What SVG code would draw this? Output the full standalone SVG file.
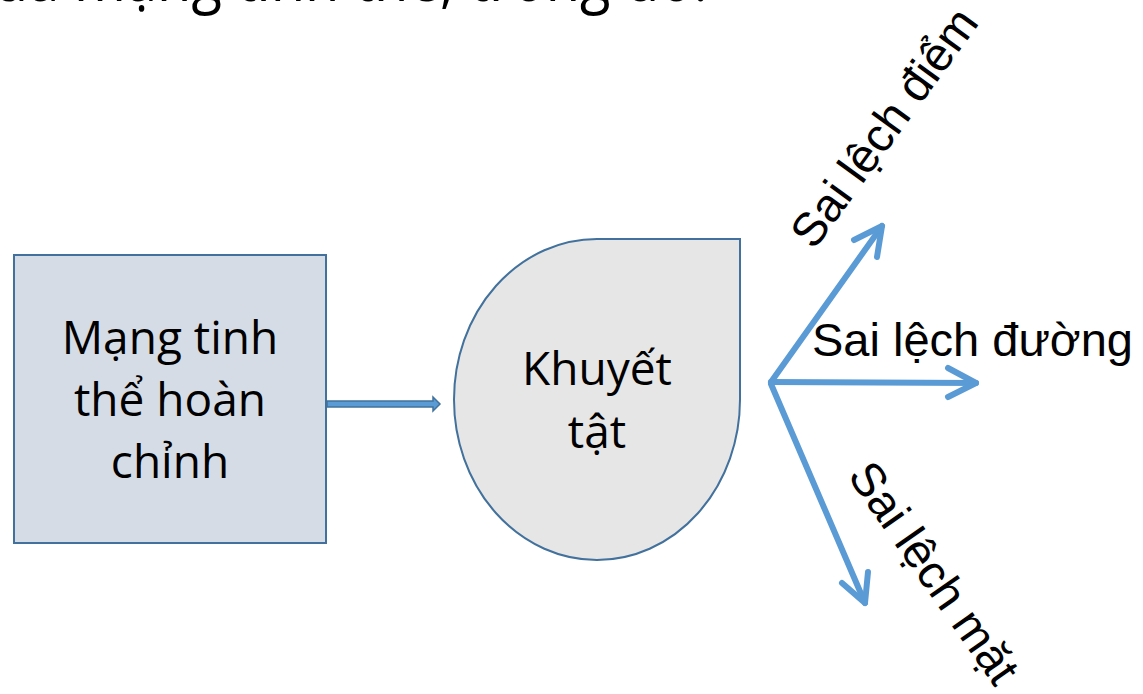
<svg xmlns="http://www.w3.org/2000/svg" width="1143" height="694" viewBox="0 0 1143 694">
  <style>
    .calib { font-family: "Open Sans", "Noto Sans", sans-serif; font-size: 46px; fill: #000; text-anchor: middle; }
    .ar { font-family: "Liberation Sans", Arial, sans-serif; font-size: 47px; fill: #000; }
    .shape { stroke: #41719c; stroke-width: 2; }
    .blue { fill: none; stroke: #5b9bd5; stroke-width: 6; stroke-linecap: round; stroke-linejoin: round; }
  </style>
  <rect width="1143" height="694" fill="#ffffff"/>
  <text x="-33" y="1" font-family="Open Sans, Noto Sans, sans-serif" font-size="64" textLength="741" lengthAdjust="spacingAndGlyphs">của mạng tinh thể, trong đó:</text>

  <g id="node-perfect">
    <rect class="shape" x="14" y="255" width="312" height="288" fill="#d6dce5"/>
    <text class="calib" x="170" y="354">Mạng tinh</text>
    <text class="calib" x="170" y="416">thể hoàn</text>
    <text class="calib" x="170" y="478">chỉnh</text>
  </g>

  <g id="node-defect">
    <path class="shape" fill="#e7e6e6" d="M597 239 L740 239 L740 399.5 A143 160.5 0 0 1 597 560 A143 160.5 0 0 1 454 399.5 A143 160.5 0 0 1 597 239 Z"/>
    <text class="calib" x="597" y="385">Khuyết</text>
    <text class="calib" x="597" y="448">tật</text>
  </g>

  <g id="connectors">
    <path d="M327 401 L433 401 L433 397 L440 404 L433 411 L433 407 L327 407 Z" fill="#5b9bd5" stroke="#41719c" stroke-width="1.5"/>
    <path class="blue" d="M771 382 L882 226"/>
    <path class="blue" d="M854 240 L882 226 L877 257"/>
    <path class="blue" d="M771 382 L976 383"/>
    <path class="blue" d="M948 368 L976 383 L948 397"/>
    <path class="blue" d="M771 384 L865 603"/>
    <path class="blue" d="M842 583 L865 603 L868 572"/>
  </g>

  <g id="label-point">
    <text class="ar" text-anchor="middle" transform="translate(897 137) rotate(-54)">Sai lệch điểm</text>
  </g>
  <g id="label-line">
    <text class="ar" x="812" y="356">Sai lệch đường</text>
  </g>
  <g id="label-plane">
    <text class="ar" text-anchor="middle" transform="translate(921 582) rotate(55)">Sai lệch mặt</text>
  </g>
</svg>
